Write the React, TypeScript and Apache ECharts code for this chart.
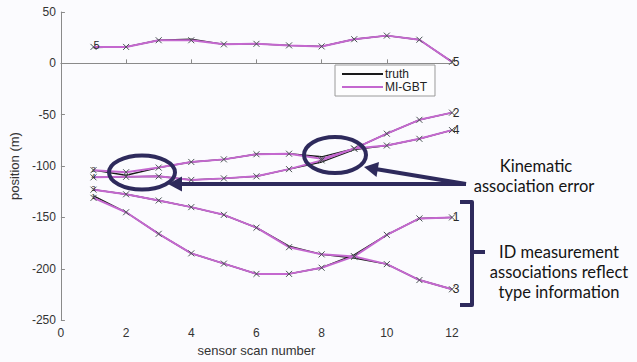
import React, { useEffect, useRef } from "react";
import * as echarts from "echarts";

const scans = [1, 2, 3, 4, 5, 6, 7, 8, 9, 10, 11, 12];
const trackIds = ["5", "2", "4", "3", "1"];
const miGbt5 = [16, 16, 22.5, 22.5, 18.5, 19, 17.5, 16.5, 23.5, 27, 23, 1.5];
const truth5 = [15.5, 16, 22.5, 23.5, 18.5, 19, 17.5, 16.5, 23.5, 27, 23, 1.5];
const miGbt2 = [-104, -106, -101.5, -96, -93.5, -88.5, -88, -93, -83, -68.5, -55, -48];
const truth2 = [-104, -109, -101.5, -96, -93.5, -88.5, -88, -91, -83, -68.5, -55, -48];
const miGbt4 = [-111, -110.5, -110, -113.5, -112, -110, -103, -94.5, -83, -80, -73.5, -65];
const truth4 = [-111, -110.5, -110, -113.5, -112, -110, -103, -96, -84, -80, -73.5, -65];
const miGbt3 = [-123, -127.5, -133.5, -140, -147.5, -160, -179, -186, -188, -195.5, -211, -220];
const truth3 = [-123, -127.5, -133.5, -140, -147.5, -160, -178, -186, -189.5, -195.5, -211, -220];
const miGbt1 = [-131, -145, -166, -185, -195, -205, -205, -199, -188, -167, -151, -150];
const truth1 = [-129, -145, -166, -185, -195, -205, -205, -199, -186.5, -167, -151, -150];

const xTicks = { min: 0, max: 12, interval: 2 };
const yTicks = { min: -250, max: 50, interval: 50 };

const miTracks = [miGbt5, miGbt2, miGbt4, miGbt3, miGbt1];
const truthTracks = [truth5, truth2, truth4, truth3, truth1];

const NAVY = "#2e2a5c";
const PINK = "#c468cf";
const AXIS = "#8a8a8a";
const FONT = "Liberation Sans, Arial, sans-serif";
const NOTE_FONT = "Lato, 'Open Sans', sans-serif";

export default function App() {
  const ref = useRef<HTMLDivElement>(null);
  useEffect(() => {
    document.body.style.margin = "0";
    const chart = echarts.init(ref.current!, null, { renderer: "svg" });
    const idLabel = (id: string, size: number, offset: number[]) => ({
      show: true,
      formatter: id,
      position: "inside",
      offset,
      fontSize: size,
      fontFamily: FONT,
      color: "#2a2a2a",
    });
    const truthSeries = truthTracks.map((t) => ({
      type: "line",
      name: "truth",
      data: t.map((v, i) => [scans[i], v]),
      symbol: "none",
      lineStyle: { color: "#1a1a1a", width: 1.4 },
      itemStyle: { color: "#1a1a1a" },
      z: 2,
    }));
    const miSeries = miTracks.map((t, k) => ({
      type: "line",
      name: "MI-GBT",
      data: t.map((v, i) => {
        const item: any = { value: [scans[i], v] };
        if (i === t.length - 1) item.label = idLabel(trackIds[k], 12, [4, 0]);
        if (i === 0) item.label = k === 0 ? idLabel(trackIds[k], 11, [3, -2]) : idLabel(trackIds[k], 7, [0, -1]);
        return item;
      }),
      symbol: "path://M0 0L10 10M10 0L0 10",
      symbolSize: 6,
      showSymbol: true,
      lineStyle: { color: PINK, width: 2 },
      itemStyle: { color: "none", borderColor: "#4b5656", borderWidth: 1 },
      z: 3,
    }));
    chart.setOption({
      animation: false,
      backgroundColor: "#fbfbfe",
      grid: { left: 59, top: 12, right: 185, bottom: 39 },
      legend: {
        data: [
          { name: "truth", itemStyle: { color: "#1a1a1a", borderWidth: 0 } },
          { name: "MI-GBT", itemStyle: { color: PINK, borderWidth: 0 } },
        ],
        orient: "vertical",
        left: 335,
        top: 65,
        icon: "rect",
        itemWidth: 41,
        itemHeight: 2,
        itemGap: 1,
        padding: [3, 8, 3, 7],
        borderColor: "#9a9a9a",
        borderWidth: 1,
        backgroundColor: "#fdfdfe",
        textStyle: { fontSize: 12, fontFamily: FONT, color: "#222", padding: [0, 0, 0, -3] },
      },
      xAxis: {
        type: "value",
        ...xTicks,
        name: "sensor scan number",
        nameLocation: "middle",
        nameGap: 22,
        nameTextStyle: { fontSize: 13, fontFamily: FONT, color: "#333" },
        axisLine: { show: true, lineStyle: { color: AXIS } },
        axisTick: { show: true, inside: true, length: 4, lineStyle: { color: AXIS } },
        axisLabel: { fontSize: 12, fontFamily: FONT, color: "#333", margin: 7 },
        splitLine: { show: false },
      },
      yAxis: {
        type: "value",
        ...yTicks,
        name: "position (m)",
        nameLocation: "middle",
        nameGap: 36,
        nameTextStyle: { fontSize: 13, fontFamily: FONT, color: "#333" },
        axisLine: { show: true, lineStyle: { color: AXIS } },
        axisTick: { show: true, inside: true, length: 4, lineStyle: { color: AXIS } },
        axisLabel: { fontSize: 12, fontFamily: FONT, color: "#333", margin: 5 },
        splitLine: { show: false },
      },
      series: [...truthSeries, ...miSeries],
      graphic: [
        { type: "ellipse", shape: { cx: 142, cy: 172.5, rx: 33, ry: 17 }, style: { fill: "none", stroke: NAVY, lineWidth: 4 }, z: 100 },
        { type: "ellipse", shape: { cx: 335, cy: 155, rx: 31, ry: 18 }, style: { fill: "none", stroke: NAVY, lineWidth: 4 }, z: 100 },
        { type: "line", shape: { x1: 466, y1: 184, x2: 180, y2: 184 }, style: { stroke: NAVY, lineWidth: 4 }, z: 100 },
        { type: "polygon", shape: { points: [[168, 184], [182, 176.5], [182, 191.5]] }, style: { fill: NAVY }, z: 100 },
        { type: "line", shape: { x1: 466, y1: 184, x2: 377, y2: 169.3 }, style: { stroke: NAVY, lineWidth: 4 }, z: 100 },
        { type: "polygon", shape: { points: [[364, 167], [379, 162], [376.5, 177]] }, style: { fill: NAVY }, z: 100 },
        { type: "polyline", shape: { points: [[460, 202], [472, 202], [472, 305], [460, 305]] }, style: { stroke: NAVY, lineWidth: 4, fill: "none", lineJoin: "round" }, z: 100 },
        { type: "line", shape: { x1: 472, y1: 252, x2: 485, y2: 252 }, style: { stroke: NAVY, lineWidth: 4 }, z: 100 },
        { type: "text", x: 536, y: 166, style: { text: "Kinematic", fontSize: 16.5, fontFamily: NOTE_FONT, fill: "#141414", align: "center", verticalAlign: "middle" }, z: 100 },
        { type: "text", x: 534, y: 186, style: { text: "association error", fontSize: 16.5, fontFamily: NOTE_FONT, fill: "#141414", align: "center", verticalAlign: "middle" }, z: 100 },
        { type: "text", x: 559, y: 252, style: { text: "ID measurement", fontSize: 16.5, fontFamily: NOTE_FONT, fill: "#141414", align: "center", verticalAlign: "middle" }, z: 100 },
        { type: "text", x: 559, y: 272, style: { text: "associations reflect", fontSize: 16.5, fontFamily: NOTE_FONT, fill: "#141414", align: "center", verticalAlign: "middle" }, z: 100 },
        { type: "text", x: 559, y: 292, style: { text: "type information", fontSize: 16.5, fontFamily: NOTE_FONT, fill: "#141414", align: "center", verticalAlign: "middle" }, z: 100 },
      ],
    });
    return () => chart.dispose();
  }, []);
  return <div ref={ref} style={{ width: 637, height: 362 }} />;
}
